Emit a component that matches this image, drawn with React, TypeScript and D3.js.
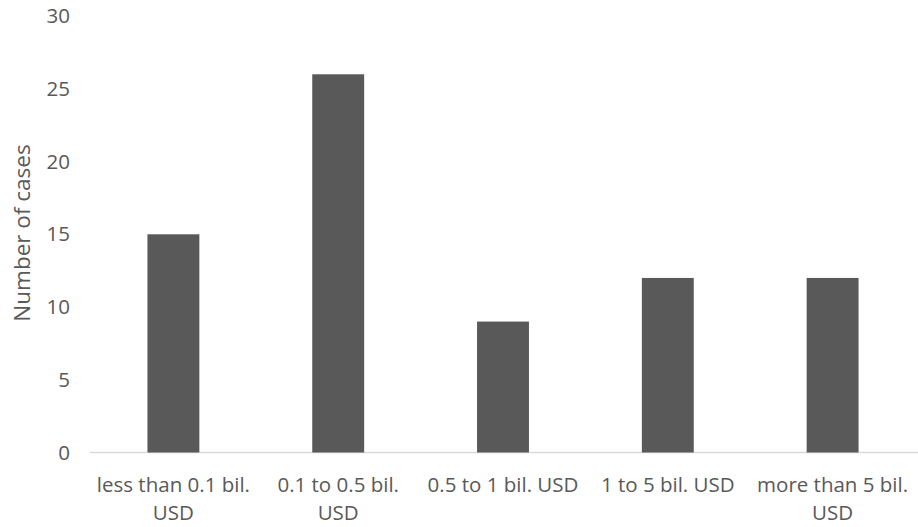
import React, { useEffect, useRef } from "react";
import * as d3 from "d3";

const categories = [
  "less than 0.1 bil. USD",
  "0.1 to 0.5 bil. USD",
  "0.5 to 1 bil. USD",
  "1 to 5 bil. USD",
  "more than 5 bil. USD",
];
const values = [15, 26, 9, 12, 12];
const yTicks = [0, 5, 10, 15, 20, 25, 30];
const yTitle = "Number of cases";

const W = 918;
const H = 527;
const FONT = "'Open Sans', Lato, sans-serif";
const FS = 20.5;
const TEXT = "#595959";

export default function App() {
  const ref = useRef<SVGSVGElement>(null);

  useEffect(() => {
    const svg = d3.select(ref.current);
    svg.selectAll("*").remove();

    const x = d3.scaleBand<string>().domain(categories).range([91, 915]).paddingInner(0.685).paddingOuter(0.3425);
    const y = d3.scaleLinear().domain([0, 30]).range([452.5, 16.1]);

    svg.append("line")
      .attr("x1", 90).attr("x2", 918)
      .attr("y1", y(0)).attr("y2", y(0))
      .attr("stroke", "#d9d9d9").attr("stroke-width", 1.5);

    svg.selectAll("rect.bar").data(values).enter().append("rect")
      .attr("class", "bar")
      .attr("x", (_, i) => x(categories[i])!)
      .attr("width", x.bandwidth())
      .attr("y", (d) => y(d))
      .attr("height", (d) => y(0) - y(d))
      .attr("fill", "#595959");

    svg.selectAll("text.ytick").data(yTicks).enter().append("text")
      .attr("class", "ytick")
      .attr("x", 70).attr("y", (d) => y(d))
      .attr("dy", "0.35em")
      .attr("text-anchor", "end")
      .attr("font-family", FONT).attr("font-size", FS)
      .attr("fill", TEXT)
      .text((d) => String(d));

    svg.append("text")
      .attr("transform", `translate(30, 233) rotate(-90)`)
      .attr("text-anchor", "middle")
      .attr("font-family", FONT).attr("font-size", 22.5)
      .attr("fill", TEXT)
      .text(yTitle);

    const maxW = 165;
    categories.forEach((c) => {
      const cx = x(c)! + x.bandwidth() / 2;
      const t = svg.append("text")
        .attr("x", cx).attr("y", 492)
        .attr("text-anchor", "middle")
        .attr("font-family", FONT).attr("font-size", FS)
        .attr("fill", TEXT);
      const words = c.split(" ");
      let line: string[] = [];
      let lineNo = 0;
      let tspan = t.append("tspan").attr("x", cx).attr("y", 492);
      words.forEach((w) => {
        line.push(w);
        tspan.text(line.join(" "));
        if ((tspan.node() as SVGTSpanElement).getComputedTextLength() > maxW && line.length > 1) {
          line.pop();
          tspan.text(line.join(" "));
          line = [w];
          lineNo++;
          tspan = t.append("tspan").attr("x", cx).attr("y", 492 + lineNo * 28).text(w);
        }
      });
    });
  }, []);

  return (
    <svg ref={ref} width={W} height={H} style={{ position: "absolute", left: 0, top: 0, background: "#fff" }} />
  );
}
